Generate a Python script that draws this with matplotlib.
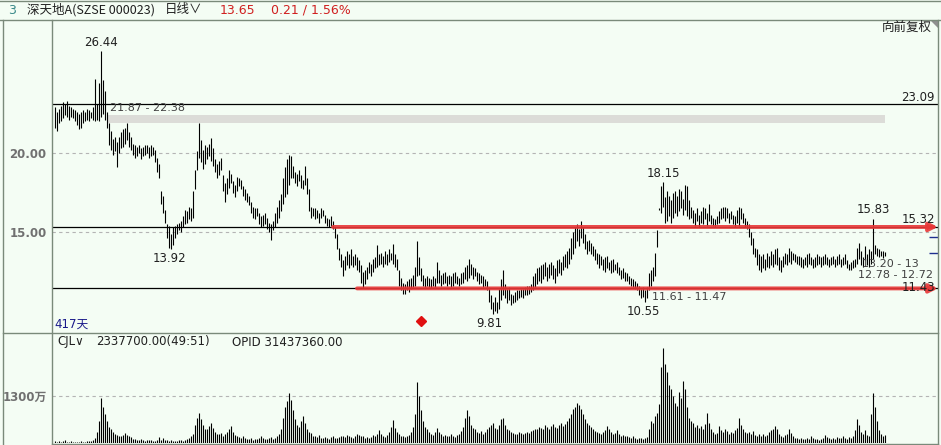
import numpy as np
import matplotlib
matplotlib.use('Agg')
import matplotlib.pyplot as plt

plt.rcParams['font.family'] = ['DejaVu Sans', 'Noto Sans CJK SC']

# daily bars (lows / highs), one per trading day
lows = [21.6, 21.4, 21.9, 22.0, 22.2, 22.4, 22.3, 22.1, 22.3, 22.2, 22.0, 21.8, 21.5, 21.6, 21.9, 22.0, 22.1, 22.0, 22.2, 22.1,
        22.0, 22.1, 22.0, 22.3, 22.5, 22.1, 21.6,
        20.5, 20.2, 19.9, 20.1, 19.1, 20.0, 20.3, 20.4, 20.6, 20.8, 20.4, 20.2,
        19.9, 19.7, 19.8, 20.0, 19.6, 19.8, 19.9, 20.0, 19.7, 19.8, 19.9,
        19.4, 18.8, 18.4, 16.8, 16.2, 15.6, 14.6, 14.0, 13.92, 14.2, 14.6,
        14.9, 15.1, 15.0, 15.3, 15.5, 15.6, 15.8, 15.7, 15.9,
        17.7, 18.9, 19.7,
        19.4, 19.0, 19.3, 19.6, 19.8, 19.5, 19.2,
        18.8, 18.4, 18.6, 18.9, 17.6, 16.9, 17.4,
        17.8, 18.1, 17.5, 17.2, 17.6, 17.9, 17.7, 17.3, 17.0, 16.9, 16.7,
        16.2, 15.9, 15.8, 16.0, 15.5, 15.3, 15.4,
        15.5, 15.2, 15.0, 14.5, 15.1, 15.3, 15.6, 15.9, 16.3,
        16.8, 17.2, 17.4, 18.0, 18.4,
        18.4, 18.1, 17.9, 18.2, 17.8, 17.7, 18.0, 17.4,
        16.3, 15.9, 16.0, 15.8, 15.9, 15.6, 15.9, 16.0, 15.6, 15.4, 15.3, 15.4, 15.2,
        14.6, 13.9, 13.2, 12.8,
        12.2, 12.6, 12.9, 12.7, 12.9, 12.8, 12.9, 12.6, 12.5,
        11.8, 11.45, 11.7,
        12.0, 12.4, 12.2, 12.5, 12.7, 12.8, 12.9, 13.0, 12.8, 13.0, 12.9, 13.1, 13.2, 13.0, 12.8, 12.6,
        11.6, 11.3, 11.1, 11.1, 11.3, 11.2, 11.4, 11.5, 11.6, 12.2,
        12.3, 11.9, 11.6, 11.5, 11.6, 11.5, 11.45, 11.6, 11.5, 11.8,
        11.8, 11.6, 11.7, 11.8, 11.6, 11.7, 11.5, 11.6, 11.8, 11.7, 11.6, 11.7, 11.8, 12.0, 11.9, 12.1,
        12.3, 12.0, 12.2, 11.9, 11.7, 11.8, 11.5, 11.6, 11.3,
        10.6, 10.1, 9.81, 10.0, 9.9, 10.1, 10.7, 11.0, 10.8,
        10.5, 10.7, 10.4, 10.5, 10.6, 10.7, 10.8, 10.9, 10.8, 11.0, 11.0, 11.1, 11.2, 11.3,
        11.5, 11.7, 11.9, 11.8, 12.0, 12.2, 11.9, 12.1, 12.3, 12.0, 11.8, 12.2, 12.4, 12.3, 12.6, 12.8, 12.7, 13.0,
        13.3, 13.6, 14.0, 14.4, 14.1, 14.6, 14.3,
        13.9, 13.6, 13.8, 13.6, 13.5,
        13.2, 13.0, 12.7, 12.9, 12.6, 12.5, 12.7, 12.6, 12.4, 12.5, 12.6, 12.4, 12.3, 12.0, 12.1, 11.9, 11.9,
        11.7, 11.6, 11.5, 11.4, 11.3, 11.0, 10.8, 10.9, 10.55, 10.8,
        11.3, 11.6, 11.9, 12.2, 14.05, 16.4,
        16.2, 16.6, 15.6, 15.7, 16.0, 15.6, 15.9, 16.2, 16.0, 16.3, 16.5, 16.1, 16.4, 16.0, 15.8,
        15.9, 15.6, 15.4, 15.7, 15.3, 15.6, 15.5, 15.8, 15.4, 15.7, 15.5, 15.4, 15.3, 15.5,
        15.6, 15.8, 15.9, 15.7, 15.9, 15.6, 15.8, 15.5, 15.3, 15.6, 15.4, 15.8, 15.6, 15.3, 15.2,
        14.7, 14.2, 13.6, 13.4, 12.9, 12.6,
        12.5, 12.7, 12.6, 12.8, 12.7, 12.9, 12.8, 13.0, 12.9, 12.6, 12.5, 12.8, 13.0, 12.9, 13.1,
        13.0, 13.2, 13.1, 13.0, 12.9, 12.8, 12.7, 12.9, 12.8, 13.0, 12.9, 12.7, 12.8, 12.9, 13.0,
        12.8, 12.9, 13.0, 12.9, 12.8, 12.9, 13.0, 12.8, 12.9, 13.0, 12.8, 12.9, 13.0, 12.7, 12.6,
        12.6, 12.7, 12.8, 13.0, 13.3, 12.9, 12.8, 13.2, 12.9, 12.8, 13.0, 13.3, 13.6, 13.5, 13.4, 13.5, 13.35, 13.5]

highs = [22.9, 22.6, 22.8, 23.0, 23.2, 23.1, 23.3, 23.0, 22.9, 22.8, 22.7, 22.6, 22.5, 22.6, 22.7, 22.6, 22.8, 22.7, 22.6, 22.9,
         24.7, 23.1, 24.4, 26.44, 24.6, 23.9, 22.6,
         21.9, 21.4, 20.9, 21.0, 20.7, 21.0, 21.3, 21.5, 21.6, 21.9, 21.3, 21.0,
         20.6, 20.5, 20.4, 20.5, 20.3, 20.4, 20.5, 20.5, 20.4, 20.5, 20.4,
         20.2, 19.7, 19.3, 17.6, 17.3, 16.4, 15.5, 15.4, 14.9, 15.3, 15.4,
         15.5, 15.6, 15.7, 16.0, 16.4, 16.3, 16.6, 16.5, 17.6,
         18.9, 20.1, 21.9,
         20.8, 20.2, 20.5, 20.4, 20.6, 20.95, 20.3,
         19.6, 19.3, 19.5, 19.7, 18.6, 18.1, 18.4,
         18.9, 18.7, 18.2, 18.0, 18.5, 18.4, 18.3, 17.9, 17.7, 17.5, 17.3,
         16.9, 16.6, 16.5, 16.5, 16.2, 16.0, 16.1,
         16.2, 15.9, 15.6, 15.5, 15.7, 16.2, 16.6, 17.0, 17.4,
         18.4, 19.1, 19.6, 19.9, 19.8,
         19.2, 18.8, 18.7, 18.9, 18.6, 18.3, 19.2, 18.4,
         17.7, 16.6, 16.5, 16.5, 16.4, 16.2, 16.5, 16.4, 16.1, 15.9, 15.8, 16.0, 15.7,
         15.3, 14.9, 14.0, 13.6,
         13.2, 13.5, 13.8, 13.6, 13.9, 13.5, 13.6, 13.4, 13.2,
         12.9, 12.5, 12.6,
         12.8, 13.1, 13.0, 13.3, 13.4, 14.2, 13.6, 13.7, 13.5, 13.8, 13.6, 13.9, 13.7, 14.25, 13.6, 13.3,
         12.6, 12.1, 11.8, 11.7, 11.9, 12.0, 12.1, 12.3, 12.8, 14.4,
         13.4, 12.7, 12.3, 12.1, 12.2, 12.1, 12.0, 12.2, 12.1, 13.1,
         12.6, 12.3, 12.4, 12.5, 12.2, 12.3, 12.2, 12.4, 12.5, 12.2, 12.1, 12.4, 12.5, 12.8, 12.9, 13.3,
         13.0, 12.8, 12.7, 12.5, 12.4, 12.3, 12.2, 12.0, 11.9,
         11.5, 11.0, 10.6, 10.9, 10.6, 11.4, 12.0, 12.6, 11.7,
         11.4, 11.5, 11.1, 11.0, 11.2, 11.3, 11.3, 11.4, 11.4, 11.5, 11.6, 11.6, 11.7, 12.2,
         12.4, 12.7, 12.8, 12.9, 13.0, 13.1, 12.8, 13.0, 13.1, 12.9, 12.7, 13.2, 13.3, 13.1, 13.5, 13.6, 13.8, 14.0,
         14.6, 15.0, 15.3, 15.5, 15.2, 15.7, 15.3,
         14.9, 14.4, 14.5, 14.3, 14.1,
         13.9, 13.7, 13.6, 13.5, 13.3, 13.4, 13.5, 13.1, 13.2, 13.3, 13.0, 13.1, 12.8, 12.6, 12.7, 12.5, 12.4,
         12.2, 12.1, 12.0, 11.9, 11.8, 11.6, 11.4, 11.5, 11.3, 11.5,
         12.4, 12.6, 12.8, 13.7, 15.1, 16.5,
         17.9, 18.15, 17.2, 17.6, 17.3, 17.0, 17.5, 17.6, 17.3, 17.7, 17.6, 17.1, 18.0, 17.9, 17.0,
         16.6, 16.4, 16.2, 16.5, 16.1, 16.3, 16.6, 16.5, 16.2, 16.8, 16.1, 15.9, 15.8, 16.0,
         16.3, 16.5, 16.6, 16.6, 16.5, 16.2, 16.3, 16.1, 16.0, 16.4, 16.6, 16.5, 16.2, 15.9, 15.7,
         15.5, 15.0, 14.6, 14.0, 13.9, 13.6,
         13.5, 13.6, 13.3, 13.7, 13.5, 13.8, 13.6, 13.9, 14.0, 13.4, 13.2, 13.5, 13.7, 13.6, 14.0,
         13.8, 13.7, 13.6, 13.5, 13.5, 13.4, 13.3, 13.4, 13.6, 13.7, 13.4, 13.3, 13.4, 13.6, 13.5,
         13.4, 13.5, 13.6, 13.4, 13.3, 13.4, 13.5, 13.3, 13.5, 13.6, 13.3, 13.4, 13.6, 13.2, 13.0,
         13.1, 13.2, 13.3, 14.0, 14.3, 13.8, 13.4, 14.1, 13.6, 13.9, 13.8, 15.83, 14.2, 14.0, 13.9, 13.8, 13.8, 13.75]

# volume, in 万 shares
vol = [50, 40, 60, 30, 45, 70, 40, 35, 55, 30, 40, 25, 35, 50, 30, 40, 45, 60, 50, 70,
       150, 300, 600, 1240, 1000, 800, 620, 450, 380, 300, 240, 220, 200, 180, 210, 280, 220, 190, 170,
       120, 100, 90, 80, 110, 70, 60, 80, 90, 70, 60,
       60, 70, 170, 80, 150, 90, 70, 60, 80, 60, 50,
       60, 70, 80, 60, 90, 120, 140, 180, 250,
       500, 700, 820, 650, 500, 400, 380, 460, 540, 420,
       300, 260, 240, 280, 200, 250, 300, 380, 465, 300,
       220, 180, 160, 150, 200, 140, 120, 110, 130, 90,
       100, 120, 150, 180, 130, 110, 100, 140, 170, 120,
       130, 180, 250, 400, 700, 1000, 1150, 1375, 1190, 900,
       650, 500, 450, 600, 745, 550, 400, 300, 280, 200,
       180, 160, 220, 150, 140, 170, 130, 120, 160, 190, 150, 130, 170, 200,
       180, 160, 230, 200, 170, 150, 190, 260, 210,
       200, 180, 150, 160, 140, 170, 230, 180, 260, 350, 250, 190, 170, 210, 300, 450, 630, 420, 300,
       250, 200, 180, 160, 200, 220, 300, 450, 800, 1700, 1300, 900, 600, 450, 380, 300, 250, 220, 300, 420, 300,
       250, 200, 220, 180, 200, 240, 190, 170, 210, 260,
       320, 450, 700, 900, 750, 500, 420, 380, 300, 280, 320, 260, 300, 380, 450, 500, 550, 420, 380, 500, 650, 700, 500,
       400, 350, 300, 280, 260, 240, 300, 280, 250, 270, 300, 280, 320, 350,
       400, 380, 450, 420, 380, 500, 450, 400, 480, 520, 450, 420, 500, 550, 480, 520, 600, 700,
       800, 950, 1000, 1100, 1050, 950, 800, 650, 550, 500, 450, 400,
       330, 300, 280, 250, 300, 350, 480, 400, 300, 260, 280, 370, 250, 200, 220, 180, 200,
       160, 150, 180, 130, 120, 150, 140, 110, 130, 160,
       400, 600, 550, 750, 820, 1070, 2100, 2620, 2180, 1950, 1600, 1500, 1300, 1100, 1020, 1400, 1250, 1720, 1500, 1000, 700,
       600, 550, 450, 500, 420, 460, 380, 520, 840, 560, 400, 300, 250, 280,
       480, 350, 300, 380, 330, 260, 300, 280, 350, 420, 680, 500, 380, 300, 280,
       300, 250, 320, 220, 200, 260,
       200, 250, 180, 220, 300, 350, 400, 480, 380, 250, 200, 170, 220, 260, 390,
       280, 200, 150, 130, 120, 150, 110, 100, 130, 120, 200, 150, 120, 100, 90,
       110, 130, 220, 170, 150, 120, 140, 110, 160, 130, 150, 190, 140, 120, 160,
       130, 200, 350, 650, 500, 300, 250, 350, 220, 180, 800, 1380, 1000, 600, 350, 250, 200, 220]

# marked levels
top_line = 23.09
band = (21.87, 22.38)
res_line = 15.32
sup_line = 11.43

W, H = 941, 445
bg = '#F4FDF4'
frame = '#7A8A7A'
red = '#E83838'

def box(x0, y0, x1, y1):
    return [x0 / W, 1 - y1 / H, (x1 - x0) / W, (y1 - y0) / H]

fig = plt.figure(figsize=(W / 100, H / 100), dpi=100, facecolor=bg)

xl = (-1.5, 441.5)

# price panel
ax = fig.add_axes(box(52, 20, 938, 332))
ax.set_facecolor(bg)
ax.set_xlim(*xl)
ax.set_ylim(8.671, 28.418)
x = np.arange(len(lows))
ax.vlines(x, lows, highs, color='black', lw=0.8, zorder=4)
ax.set_yticks([15, 20])
ax.set_yticklabels(['15.00', '20.00'], color='#707070', fontsize=8.5, fontweight='bold')
ax.tick_params(axis='y', length=0, pad=4)
ax.set_xticks([])
ax.yaxis.grid(True, ls=(0, (3, 3)), color='#B4B4B4', lw=0.8)
for s in ax.spines.values():
    s.set_visible(False)

ax.axhline(top_line, color='black', lw=0.9, zorder=3)
ax.axhline(res_line, color='black', lw=0.9, zorder=3)
ax.axhline(sup_line, color='black', lw=0.9, zorder=3)
ax.fill_between([26, 415], band[0], band[1], color='#DCDCD8', lw=0, zorder=2)

ap = dict(arrowstyle='-|>', color=red, lw=2.8, mutation_scale=12, shrinkA=0, shrinkB=0, alpha=0.9)
ax.annotate('', xy=(441.5, res_line), xytext=(139, res_line), arrowprops=ap, zorder=5, annotation_clip=False)
ax.annotate('', xy=(441.5, sup_line), xytext=(151, sup_line), arrowprops=ap, zorder=5, annotation_clip=False)
ax.hlines([14.68, 13.67], 437, 441.5, color='#1F2F8F', lw=1.0, zorder=5)
ax.plot([183], [9.37], marker='D', color='#E01010', ms=5, zorder=6)

lab = dict(fontsize=8.5, color='#202020', zorder=7)
rng = dict(fontsize=8, color='#404040', zorder=7)
ax.text(23, 26.6, '26.44', ha='center', va='bottom', **lab)
ax.text(57, 13.75, '13.92', ha='center', va='top', **lab)
ax.text(304, 18.3, '18.15', ha='center', va='bottom', **lab)
ax.text(217, 9.6, '9.81', ha='center', va='top', **lab)
ax.text(294, 10.4, '10.55', ha='center', va='top', **lab)
ax.text(409, 16.0, '15.83', ha='center', va='bottom', **lab)
ax.text(27.5, 22.85, '21.87 - 22.38', ha='left', va='center', **rng)
ax.text(298.5, 10.89, '11.61 - 11.47', ha='left', va='center', **rng)
ax.text(403.5, 12.95, '13.20 - 13', ha='left', va='center', clip_on=True, **rng)
ax.text(401.5, 12.25, '12.78 - 12.72', ha='left', va='center', clip_on=True, **rng)
ax.text(440, 23.54, '23.09', ha='right', va='center', **lab)
ax.text(440, 15.82, '15.32', ha='right', va='center', **lab)
ax.text(440, 11.5, '11.43', ha='right', va='center', **lab)

# volume panel
av = fig.add_axes(box(52, 332, 938, 443))
av.set_facecolor(bg)
av.set_xlim(*xl)
av.set_ylim(0, 3070)
av.vlines(np.arange(len(vol)), 0, vol, color='black', lw=0.8)
av.set_yticks([1300])
av.set_yticklabels(['1300万'], color='#707070', fontsize=8.5, fontweight='bold')
av.tick_params(axis='y', length=0, pad=4)
av.set_xticks([])
av.yaxis.grid(True, ls=(0, (3, 3)), color='#B4B4B4', lw=0.8)
for s in av.spines.values():
    s.set_visible(False)

# frame and header, in pixel coordinates
ov = fig.add_axes([0, 0, 1, 1], zorder=10)
ov.set_xlim(0, W)
ov.set_ylim(H, 0)
ov.axis('off')
ov.patch.set_alpha(0)
ov.plot([0, 940], [20, 20], color=frame, lw=1)
ov.plot([0, 940], [0.5, 0.5], color=frame, lw=1)
ov.plot([3, 3], [20, 445], color=frame, lw=1)
ov.plot([52, 52], [20, 445], color=frame, lw=1)
ov.plot([938.5, 938.5], [20, 445], color=frame, lw=1)
ov.plot([3, 938], [332.5, 332.5], color=frame, lw=1)
ov.plot([52, 938], [443.5, 443.5], color=frame, lw=1)
ov.fill([930, 938, 938], [20, 20, 28], color='#909090', lw=0)

ov.text(8, 10, '3', color='#3A8A8A', fontsize=9, va='center')
ov.text(27, 10, '深天地A(SZSE 000023)', color='#202020', fontsize=9, va='center',
        family=['Noto Sans CJK SC', 'DejaVu Sans'])
ov.text(165, 10, '日线∨', color='#202020', fontsize=9, va='center',
        family=['Noto Sans CJK SC', 'DejaVu Sans'])
ov.text(220, 10, '13.65', color='#D02020', fontsize=9, va='center')
ov.text(271, 10, '0.21 / 1.56%', color='#D02020', fontsize=9, va='center')
ov.text(932, 27, '向前复权', color='#202020', fontsize=9, va='center', ha='right',
        family=['Noto Sans CJK SC', 'DejaVu Sans'])
ov.text(54, 324, '417天', color='#1A1A8A', fontsize=8.5, va='center',
        family=['DejaVu Sans', 'Noto Sans CJK SC'])
ov.text(57, 342, 'CJL∨', color='#202020', fontsize=8.5, va='center')
ov.text(96, 342, '2337700.00(49:51)', color='#202020', fontsize=8.5, va='center')
ov.text(232, 342, 'OPID 31437360.00', color='#202020', fontsize=8.5, va='center')

fig.savefig('out.png', dpi=100, facecolor=bg)
